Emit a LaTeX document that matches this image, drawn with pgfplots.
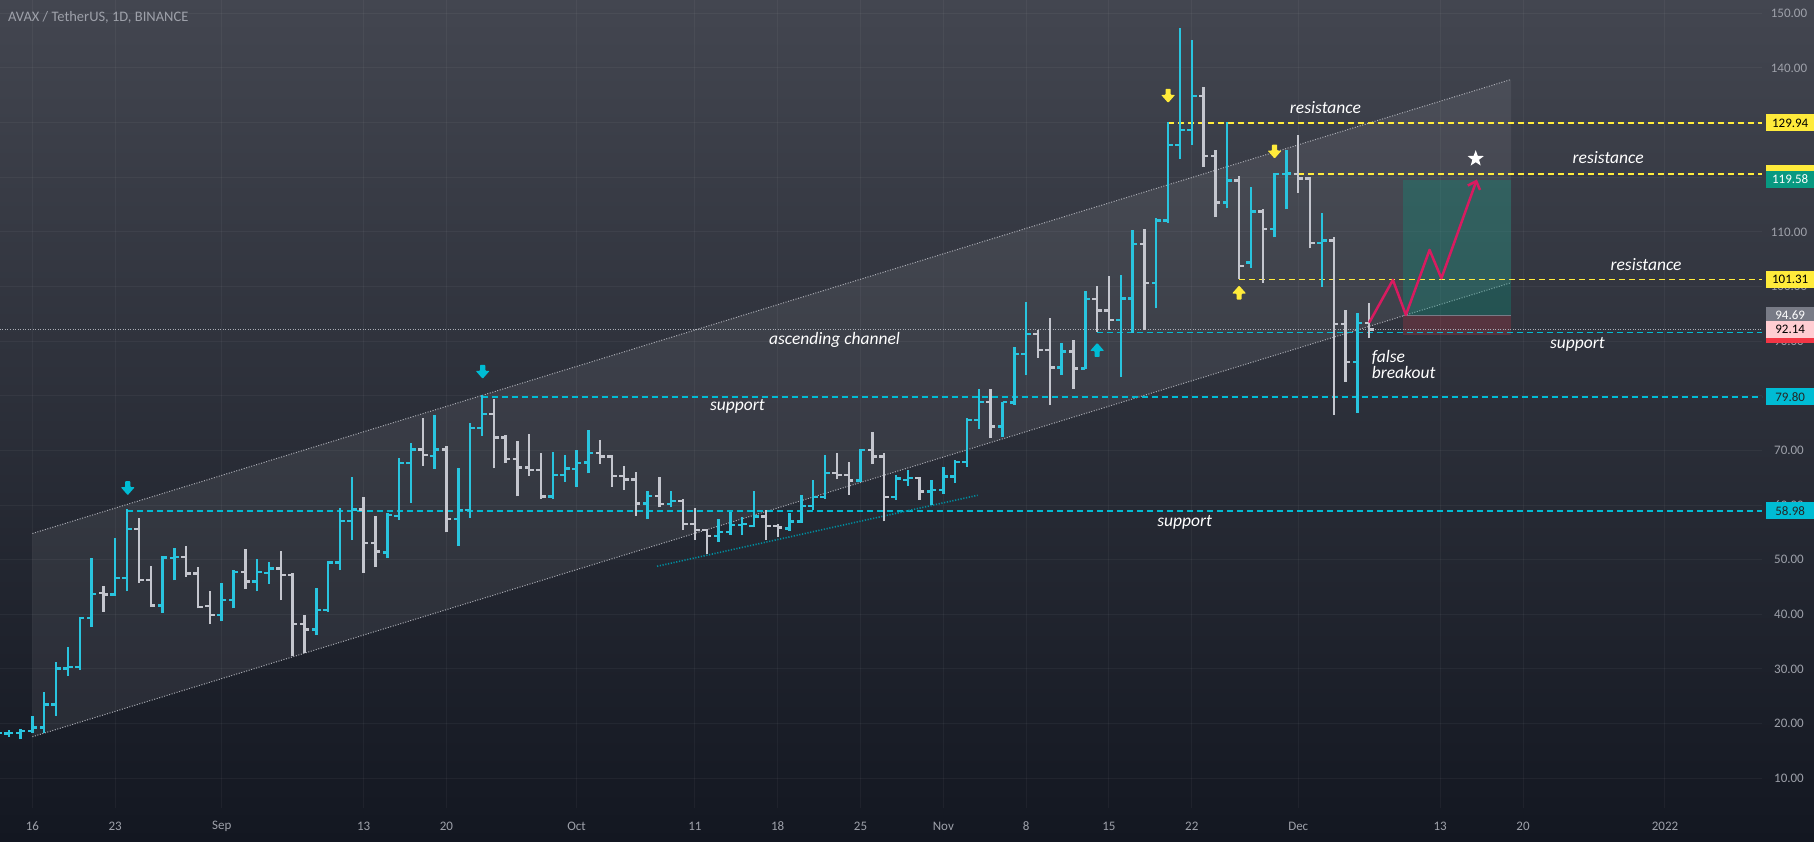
\documentclass[border=0pt]{standalone}
\usepackage{fontspec}
\setmainfont{Carlito}
\usepackage{pgfplots}
\pgfplotsset{compat=1.18}
\usepackage{pgfplotstable}
\usetikzlibrary{arrows.meta,shapes.geometric}

\definecolor{bgtop}{RGB}{67,70,80}
\definecolor{bgbot}{RGB}{19,23,33}
\definecolor{upc}{RGB}{41,196,222}
\definecolor{dnc}{RGB}{196,198,206}
\definecolor{yel}{RGB}{255,235,59}
\definecolor{cyl}{RGB}{0,188,212}
\definecolor{chan}{RGB}{172,174,182}
\definecolor{tickc}{RGB}{158,161,170}
\definecolor{zig}{RGB}{216,27,96}
\definecolor{tealbox}{RGB}{8,153,129}
\definecolor{redbox}{RGB}{242,54,69}
\definecolor{graylab}{RGB}{120,123,134}
\definecolor{pinklab}{RGB}{255,205,210}

% daily OHLC, d = days after 16 Aug 2021
\pgfplotstableread{
d o h l c
-3 18.1 18.6 17.7 18.3
-2 18.2 18.9 17.6 18.3
-1 18.3 19.0 17.1 18.6
0 18.6 21.4 18.2 19.3
1 19.3 25.7 18.2 23.5
2 23.5 31.2 21.4 30.1
3 30.1 34.0 28.8 30.4
4 30.4 39.5 29.9 39.3
5 39.3 50.4 37.7 43.7
6 43.9 45.2 40.5 43.6
7 43.6 53.9 43.4 46.7
8 46.7 59.2 44.2 55.6
9 55.6 57.7 45.7 46.3
10 46.3 48.8 41.4 41.6
11 41.6 50.6 40.3 50.4
12 50.3 52.1 46.2 50.5
13 50.5 52.5 46.8 47.5
14 47.5 48.6 41.1 41.4
15 41.5 44.3 38.2 39.9
16 39.9 45.8 38.7 42.6
17 42.6 48.1 41.1 47.8
18 47.8 51.9 44.6 46.0
19 46.0 50.1 44.2 47.8
20 47.6 49.6 45.6 48.4
21 48.4 51.6 42.6 47.2
22 47.2 47.5 32.3 38.2
23 38.2 39.9 32.9 37.2
24 37.2 44.8 36.2 40.8
25 40.8 49.8 40.5 49.5
26 49.5 59.4 48.1 57.1
27 57.1 65.2 53.6 59.2
28 59.2 61.4 47.6 53.1
29 53.1 58.0 48.7 51.5
30 51.3 58.5 50.3 58.2
31 58.0 68.6 57.3 67.7
32 67.7 71.3 60.4 70.2
33 70.2 75.9 67.2 69.2
34 69.0 76.5 66.6 70.2
35 70.2 70.8 55.0 57.4
36 57.4 66.7 52.5 59.1
37 59.1 75.0 57.6 74.1
38 74.1 80.2 72.7 76.7
39 76.7 79.4 66.7 72.4
40 72.4 72.8 67.7 68.4
41 68.4 71.7 61.6 66.9
42 66.9 73.0 65.3 66.4
43 66.4 69.6 61.2 61.6
44 61.6 69.8 61.1 65.5
45 65.5 69.2 64.3 66.7
46 66.6 70.1 63.3 67.7
47 67.8 73.7 65.8 69.5
48 69.5 71.9 67.6 68.9
49 68.9 69.2 63.4 65.3
50 65.3 67.2 62.8 64.7
51 64.7 66.1 58.0 60.3
52 60.3 62.6 57.4 61.7
53 61.7 65.2 59.6 60.2
54 60.2 62.5 59.6 60.8
55 60.8 61.2 55.4 56.5
56 56.5 59.4 53.7 55.4
57 55.4 55.6 51.0 54.3
58 54.3 57.4 53.3 55.1
59 55.1 58.8 54.5 56.3
60 56.3 57.8 54.5 56.5
61 56.2 62.5 55.9 57.9
62 57.9 59.1 53.7 56.2
63 56.2 56.5 54.2 55.9
64 55.7 58.5 55.3 57.0
65 57.0 61.8 56.8 59.8
66 59.8 64.6 59.1 61.5
67 61.5 69.2 61.2 65.9
68 65.9 69.6 64.7 65.5
69 65.5 67.9 61.8 64.5
70 64.5 70.2 64.3 70.1
71 70.1 73.3 67.6 68.9
72 68.9 69.5 57.0 61.5
73 61.5 65.5 61.0 64.9
74 64.6 66.4 63.5 65.0
75 65.0 65.2 60.9 62.5
76 62.5 64.6 60.0 62.8
77 62.8 67.0 62.0 65.2
78 65.2 68.3 64.0 67.9
79 67.9 75.9 67.0 75.6
80 75.6 81.2 73.9 78.9
81 78.9 81.2 72.2 74.4
82 74.4 78.9 72.5 78.9
83 78.8 89.0 78.3 87.7
84 87.7 97.2 83.8 91.3
85 91.3 92.0 87.0 88.4
86 88.4 94.2 78.3 85.2
87 85.2 89.7 83.8 88.1
88 88.1 90.2 81.2 85.0
89 85.0 99.1 84.9 97.7
90 97.7 100.1 91.7 95.6
91 95.6 101.9 92.0 93.9
92 93.9 102.1 83.5 97.8
93 97.8 110.3 91.5 107.8
94 107.8 110.6 92.0 100.6
95 100.6 112.5 96.0 112.1
96 112.1 130.2 111.6 125.9
97 125.9 147.3 123.3 128.6
98 128.6 145.2 125.9 134.9
99 134.9 136.6 121.9 123.9
100 123.9 125.0 112.7 115.4
101 115.4 130.2 114.3 119.4
102 119.4 120.2 101.3 103.8
103 104.4 118.2 103.3 113.7
104 113.7 114.1 100.6 110.5
105 110.5 120.7 109.0 120.6
106 120.6 125.0 114.1 120.7
107 120.6 127.7 117.2 119.8
108 119.8 120.1 107.0 108.0
109 108.0 113.5 100.0 108.4
110 108.4 109.0 76.5 93.1
111 93.1 95.7 82.6 86.2
112 86.2 95.1 76.9 93.3
113 93.3 96.9 90.5 92.14
}\ohlc

\tikzset{
  ann/.style={text=white, inner sep=0pt, font=\fontsize{17.5}{16}\selectfont\itshape},
  lab/.style={anchor=west, xshift=4pt, minimum width=48pt, minimum height=17pt,
    inner sep=0pt, font=\fontsize{13}{13}\selectfont},
  lvl/.style={line width=1.7pt, dash pattern=on 6pt off 4pt},
}
\newcommand\arrdn[3]{\fill[#1,rounded corners=0.8pt] (axis cs:#2,#3) ++(-2.6pt,7pt)
  -- ++(5.2pt,0pt) -- ++(0pt,-6pt) -- ++(4.4pt,0pt) -- ++(-7pt,-8pt) -- ++(-7pt,8pt)
  -- ++(4.4pt,0pt) -- cycle;}
\newcommand\arrup[3]{\fill[#1,rounded corners=0.8pt] (axis cs:#2,#3) ++(-2.6pt,-7pt)
  -- ++(5.2pt,0pt) -- ++(0pt,6pt) -- ++(4.4pt,0pt) -- ++(-7pt,8pt) -- ++(-7pt,-8pt)
  -- ++(4.4pt,0pt) -- cycle;}

\begin{document}
\begin{tikzpicture}
\path[use as bounding box] (0pt,-33pt) rectangle (1814pt,808pt);
\shade[top color=bgtop, bottom color=bgbot] (0pt,-33pt) rectangle (1814pt,808pt);
\begin{axis}[
  at={(0pt,0pt)}, anchor=south west,
  scale only axis, width=1762pt, height=808pt,
  xmin=-2.74, xmax=146.2, ymin=4.56, ymax=152.44,
  axis line style={draw=none},
  major tick length=0pt,
  clip mode=individual,
  xtick={0,7,16,28,35,46,56,63,70,77,84,91,98,107,119,126,138},
  xticklabels={16,23,Sep,13,20,Oct,11,18,25,Nov,8,15,22,Dec,13,20,2022},
  ytick={10,20,...,150},
  yticklabel pos=right,
  scaled y ticks=false,
  grid=major,
  grid style={white, opacity=0.045, line width=1pt},
  xticklabel style={anchor=center, yshift=-18pt, text=tickc, font=\fontsize{13}{13}\selectfont},
  yticklabel style={anchor=center, xshift=27pt, text=tickc, font=\fontsize{13}{13}\selectfont},
  /pgf/number format/.cd, fixed, fixed zerofill, precision=2, 1000 sep={}, assume math mode=true,
]
% ascending channel
\addplot[fill=white, fill opacity=0.065, draw=none] coordinates {(0,17.6) (125,100.7) (125,137.9) (0,54.8)} -- cycle;
\addplot[chan, line width=1pt, dash pattern=on 1pt off 1.6pt] coordinates {(0,54.8) (125,137.9)};
\addplot[chan, line width=1pt, dash pattern=on 1pt off 1.6pt] coordinates {(0,17.6) (125,100.7)};
% long position
\addplot[fill=tealbox, fill opacity=0.3, draw=none] coordinates {(115.85,94.69) (125,94.69) (125,119.58) (115.85,119.58)} -- cycle;
\addplot[fill=redbox, fill opacity=0.2, draw=none] coordinates {(115.85,91.15) (125,91.15) (125,94.69) (115.85,94.69)} -- cycle;
\addplot[graylab, line width=1pt] coordinates {(115.85,94.69) (125,94.69)};
% levels
\addplot[chan, line width=1pt, dash pattern=on 1pt off 1.5pt] coordinates {(-2.74,92.14) (146.2,92.14)};
\addplot[yel, lvl] coordinates {(96,129.94) (146.2,129.94)};
\addplot[yel, lvl] coordinates {(107,120.6) (146.2,120.6)};
\addplot[yel, lvl] coordinates {(102,101.31) (146.2,101.31)};
\addplot[cyl, lvl] coordinates {(90,91.6) (146.2,91.6)};
\addplot[cyl, lvl] coordinates {(38,79.8) (146.2,79.8)};
\addplot[cyl, lvl] coordinates {(8,58.98) (146.2,58.98)};
% lower trendline
\addplot[cyl!75!black, line width=1.6pt, dash pattern=on 1.2pt off 1.6pt] coordinates {(52.8,48.8) (79.9,61.8)};
% bars
\addplot[upc, line width=2.4pt, quiver={u=0, v=\thisrow{h}-\thisrow{l}},
  x filter/.expression={\thisrow{c}>=\thisrow{o} ? x : nan}] table[x=d, y=l] {\ohlc};
\addplot[upc, line width=2.4pt, quiver={u=-0.4, v=0},
  x filter/.expression={\thisrow{c}>=\thisrow{o} ? x : nan}] table[x=d, y=o] {\ohlc};
\addplot[upc, line width=2.4pt, quiver={u=0.4, v=0},
  x filter/.expression={\thisrow{c}>=\thisrow{o} ? x : nan}] table[x=d, y=c] {\ohlc};
\addplot[dnc, line width=2.4pt, quiver={u=0, v=\thisrow{h}-\thisrow{l}},
  x filter/.expression={\thisrow{c}<\thisrow{o} ? x : nan}] table[x=d, y=l] {\ohlc};
\addplot[dnc, line width=2.4pt, quiver={u=-0.4, v=0},
  x filter/.expression={\thisrow{c}<\thisrow{o} ? x : nan}] table[x=d, y=o] {\ohlc};
\addplot[dnc, line width=2.4pt, quiver={u=0.4, v=0},
  x filter/.expression={\thisrow{c}<\thisrow{o} ? x : nan}] table[x=d, y=c] {\ohlc};
% projected path
\addplot[zig, line width=2.5pt, line join=round, -{Straight Barb[length=7pt,width=13pt]}]
  coordinates {(113,93.4) (115,101.2) (116.1,94.8) (118.1,106.7) (119.1,101.5) (122.1,119.6)};
\node[star, star points=5, star point ratio=2.4, fill=white, minimum size=17pt, inner sep=0pt] at (axis cs:122.0,123.4) {};
% markers
\arrdn{cyl}{8.06}{63.1}
\arrdn{cyl}{38.06}{84.4}
\arrup{cyl}{90.0}{88.4}
\arrdn{yel}{96.0}{134.9}
\arrdn{yel}{105.0}{124.7}
\arrup{yel}{102.0}{98.9}
% notes
\node[ann] at (axis cs:109.3,132.7) {resistance};
\node[ann] at (axis cs:133.2,123.6) {resistance};
\node[ann] at (axis cs:136.4,104.1) {resistance};
\node[ann] at (axis cs:67.8,90.2) {ascending channel};
\node[ann] at (axis cs:59.6,78.0) {support};
\node[ann] at (axis cs:130.6,89.4) {support};
\node[ann] at (axis cs:97.4,56.9) {support};
\node[ann, anchor=west, align=left] at (axis cs:113.2,85.7) {false\\breakout};
\node[anchor=west, inner sep=0pt, text=tickc, font=\fontsize{14.5}{14.5}\selectfont] at (rel axis cs:0,1) [xshift=8pt, yshift=-17pt] {AVAX / TetherUS, 1D, BINANCE};
% anchors for price labels
\coordinate (p1) at (axis cs:146.2,129.94);
\coordinate (p2) at (axis cs:146.2,120.6);
\coordinate (p3) at (axis cs:146.2,119.58);
\coordinate (p4) at (axis cs:146.2,101.31);
\coordinate (p5) at (axis cs:146.2,94.69);
\coordinate (p6) at (axis cs:146.2,91.15);
\coordinate (p7) at (axis cs:146.2,92.14);
\coordinate (p8) at (axis cs:146.2,79.8);
\coordinate (p9) at (axis cs:146.2,58.98);
\end{axis}
\node[lab, fill=yel, text=black] at (p1) {129.94};
\node[lab, fill=yel] at (p2) {};
\node[lab, fill=tealbox, text=white] at (p3) {119.58};
\node[lab, fill=yel, text=black] at (p4) {101.31};
\node[lab, fill=redbox] at (p6) {};
\node[lab, fill=graylab, text=white] at (p5) {94.69};
\node[lab, fill=pinklab, text=black] at (p7) {92.14};
\node[lab, fill=cyl, text=black!85] at (p8) {79.80};
\node[lab, fill=cyl, text=black!85] at (p9) {58.98};
\end{tikzpicture}
\end{document}
